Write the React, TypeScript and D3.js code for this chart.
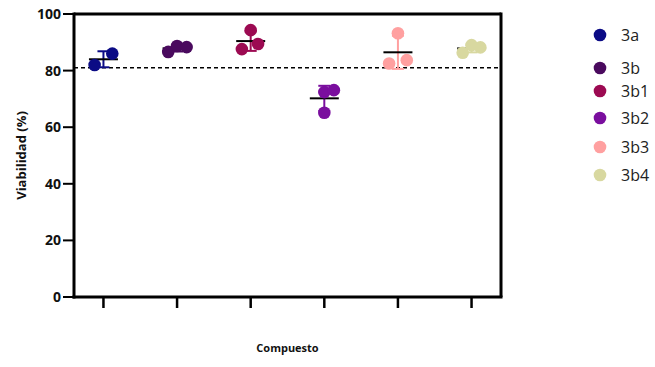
import React from "react";
import * as d3 from "d3";

// compounds and the replicate viability values (%)
const compounds = ["3a", "3b", "3b1", "3b2", "3b3", "3b4"];
const colors = ["#0b0b85", "#4a0a5e", "#9c0a52", "#7a0e9e", "#ffa0a0", "#d8d8a0"];
const replicates = [
  [82.0, 86.0],
  [86.6, 88.7, 88.3],
  [87.6, 94.3, 89.4],
  [72.4, 65.1, 73.1],
  [82.5, 93.2, 83.7],
  [86.3, 89.0, 88.2],
];
// horizontal jitter of each replicate, in units of the band step
const jitter = [
  [-0.12, 0.12],
  [-0.12, 0.0, 0.13],
  [-0.12, 0.0, 0.1],
  [0.0, 0.0, 0.13],
  [-0.12, 0.0, 0.12],
  [-0.12, 0.0, 0.12],
];
const yTicks = [0, 20, 40, 60, 80, 100];
const reference = 81;

const W = 655;
const H = 367;
const margin = { left: 74, right: 154, top: 14, bottom: 70 };
const font = "'Open Sans', 'Liberation Sans', sans-serif";
const legendPos = [35, 68, 91, 118, 147, 175];

export default function App() {
  const x = d3
    .scalePoint<string>()
    .domain(compounds)
    .range([margin.left, W - margin.right])
    .padding(0.4);
  const y = d3.scaleLinear().domain([0, 100]).range([H - margin.bottom, margin.top]);
  const step = x.step();

  return (
    <svg width={W} height={H} style={{ position: "absolute", left: 0, top: 0 }}>
      <rect width={W} height={H} fill="#fff" />
      {/* frame: top and right */}
      <line x1={margin.left} x2={W - margin.right} y1={y(100)} y2={y(100)} stroke="#000" strokeWidth={3} />
      <line x1={W - margin.right} x2={W - margin.right} y1={y(100) - 1.5} y2={y(0)} stroke="#000" strokeWidth={3} />

      {/* reference line */}
      <line
        x1={margin.left}
        x2={W - margin.right}
        y1={y(reference)}
        y2={y(reference)}
        stroke="#000"
        strokeWidth={1.6}
        strokeDasharray="4,3"
      />

      {/* groups: error bars, mean, then points on top */}
      {compounds.map((c, i) => {
        const vals = replicates[i];
        const mean = d3.mean(vals) as number;
        const sd = d3.deviation(vals) as number;
        const cx = x(c) as number;
        return (
          <g key={c}>
            <line x1={cx} x2={cx} y1={y(mean + sd)} y2={y(mean - sd)} stroke={colors[i]} strokeWidth={2} />
            <line x1={cx - 6} x2={cx + 6} y1={y(mean + sd)} y2={y(mean + sd)} stroke={colors[i]} strokeWidth={2} />
            <line x1={cx - 6} x2={cx + 6} y1={y(mean - sd)} y2={y(mean - sd)} stroke={colors[i]} strokeWidth={2} />
            <line x1={cx - 14.5} x2={cx + 14.5} y1={y(mean)} y2={y(mean)} stroke="#000" strokeWidth={2} />
            {vals.map((v, j) => (
              <circle key={j} cx={cx + jitter[i][j] * step} cy={y(v)} r={6.3} fill={colors[i]} />
            ))}
          </g>
        );
      })}

      {/* y axis */}
      <line x1={margin.left} x2={margin.left} y1={y(100) - 1.5} y2={y(0) + 1.5} stroke="#000" strokeWidth={3} />
      {yTicks.map((t) => (
        <g key={t}>
          <line x1={margin.left - 11} x2={margin.left} y1={y(t)} y2={y(t)} stroke="#000" strokeWidth={2} />
          <text
            x={margin.left - 13}
            y={y(t)}
            dy="0.35em"
            textAnchor="end"
            fontFamily={font}
            fontWeight="bold"
            fontSize={14}
            fill="#111"
          >
            {t}
          </text>
        </g>
      ))}
      <text
        transform={`translate(21,${(y(0) + y(100)) / 2}) rotate(-90)`}
        textAnchor="middle"
        dy="0.35em"
        fontFamily={font}
        fontWeight="bold"
        fontSize={13}
        fill="#111"
      >
        Viabilidad (%)
      </text>

      {/* x axis */}
      <line x1={margin.left - 1.5} x2={W - margin.right + 1.5} y1={y(0)} y2={y(0)} stroke="#000" strokeWidth={3} />
      {compounds.map((c) => (
        <line key={c} x1={x(c)} x2={x(c)} y1={y(0)} y2={y(0) + 11} stroke="#000" strokeWidth={2.5} />
      ))}
      <text
        x={(margin.left + W - margin.right) / 2}
        y={352}
        textAnchor="middle"
        fontFamily={font}
        fontWeight="bold"
        fontSize={11}
        fill="#111"
      >
        Compuesto
      </text>

      {/* legend */}
      {compounds.map((c, i) => (
        <g key={c} transform={`translate(600,${legendPos[i]})`}>
          <circle r={6.3} fill={colors[i]} />
          <text x={21} dy="0.35em" fontFamily={font} fontSize={16} fill="#222">
            {c}
          </text>
        </g>
      ))}
    </svg>
  );
}
